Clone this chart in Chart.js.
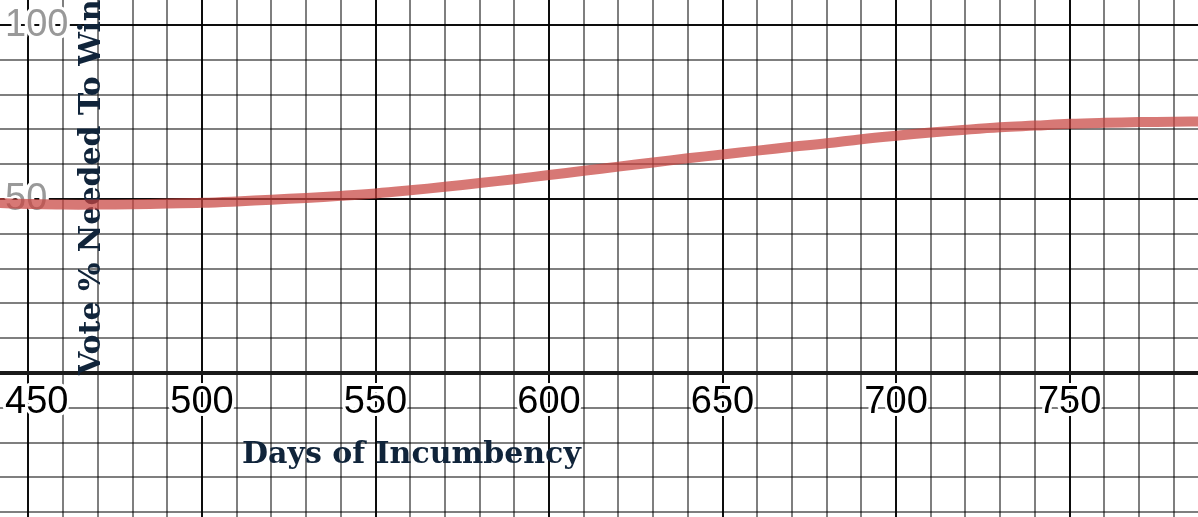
<!DOCTYPE html>
<html>
<head>
<meta charset="utf-8">
<script src="https://cdn.jsdelivr.net/npm/chart.js"></script>
<style>
  body { margin: 0; background: #fff; }
  #wrap { width: 1198px; height: 517px; }
</style>
</head>
<body>
<div id="wrap"><canvas id="graph"></canvas></div>
<script>
// days of incumbency vs vote % needed to win
var days = [440, 450, 460, 470, 480, 490, 500, 510, 520, 530, 540, 550, 560, 570, 580, 590,
            600, 610, 620, 630, 640, 650, 660, 670, 680, 690, 700, 710, 720, 730, 740, 750,
            760, 770, 780, 790];
var voteNeeded = [48.9, 48.6, 48.4, 48.4, 48.5, 48.7, 48.9, 49.3, 49.8, 50.3, 50.9, 51.6, 52.5, 53.5, 54.6, 55.7,
                  56.9, 58.1, 59.3, 60.5, 61.7, 62.8, 63.9, 65.0, 66.0, 67.2, 68.2, 69.1, 69.9, 70.6, 71.1, 71.6,
                  71.9, 72.1, 72.2, 72.3];
var xTicks = [450, 500, 550, 600, 650, 700, 750];
var yTicks = [50, 100];

var points = days.map(function (d, i) { return { x: d, y: voteNeeded[i] }; });

// grid every 10 units, like desmos
function gridTens(scale) {
  var out = [];
  for (var v = Math.ceil(scale.min / 10) * 10; v <= scale.max; v += 10) out.push({ value: v });
  scale.ticks = out;
}
function gridColor(ctx) {
  var v = ctx.tick.value;
  if (v === 0) return '#1a1a1a';
  return v % 50 === 0 ? 'rgba(0,0,0,0.95)' : 'rgba(0,0,0,0.5)';
}
function gridWidth(ctx) {
  return ctx.tick.value === 0 ? 4 : 2;
}

var labels = {
  id: 'labels',
  beforeDatasetsDraw: function (chart) {
    var c = chart.ctx, xs = chart.scales.x, ys = chart.scales.y;
    c.save();
    c.font = '38px "Liberation Sans", Arial, sans-serif';
    c.lineJoin = 'round';
    c.lineWidth = 6;
    c.strokeStyle = '#fff';
    var y0 = ys.getPixelForValue(0);
    xTicks.forEach(function (t) {
      var s = String(t);
      var w = c.measureText(s).width;
      var left = Math.max(5, xs.getPixelForValue(t) - w / 2);
      c.strokeText(s, left, y0 + 40);
      c.fillStyle = '#000';
      c.fillText(s, left, y0 + 40);
    });
    yTicks.forEach(function (t) {
      var s = String(t);
      var py = ys.getPixelForValue(t) + 11;
      c.strokeText(s, 5, py);
      c.fillStyle = '#999';
      c.fillText(s, 5, py);
    });
    c.fillStyle = '#10243a';
    c.font = 'bold 30px "DejaVu Serif", serif';
    c.fillText('Days of Incumbency', 242, 463);
    c.translate(100, 375);
    c.rotate(-Math.PI / 2);
    c.fillText('Vote % Needed To Win', 0, 0);
    c.restore();
  }
};

new Chart(document.getElementById('graph'), {
  type: 'line',
  data: {
    datasets: [{
      data: points,
      borderColor: 'rgba(199,68,64,0.72)',
      borderWidth: 10,
      pointRadius: 0,
      tension: 0.4,
      fill: false
    }]
  },
  options: {
    responsive: true,
    maintainAspectRatio: false,
    animation: false,
    layout: { padding: 0 },
    plugins: { legend: { display: false }, tooltip: { enabled: false } },
    scales: {
      x: {
        type: 'linear',
        min: 441.8,
        max: 787,
        ticks: { display: false },
        afterBuildTicks: gridTens,
        border: { display: false },
        grid: { drawTicks: false, color: gridColor, lineWidth: gridWidth }
      },
      y: {
        min: -41.4,
        max: 107.2,
        ticks: { display: false },
        afterBuildTicks: gridTens,
        border: { display: false },
        grid: { drawTicks: false, color: gridColor, lineWidth: gridWidth }
      }
    }
  },
  plugins: [labels]
});
</script>
</body>
</html>
